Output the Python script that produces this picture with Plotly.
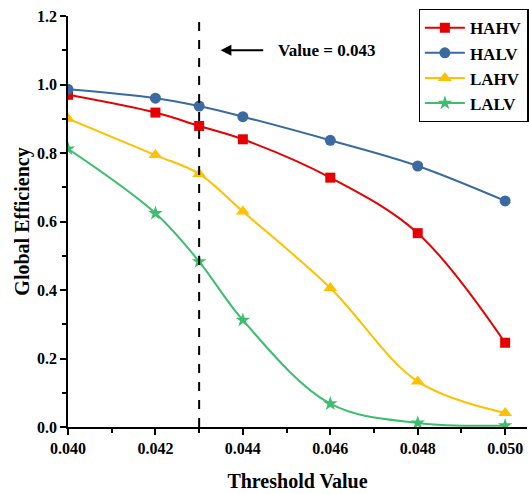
import plotly.graph_objects as go

x_vals = [0.040, 0.042, 0.043, 0.044, 0.046, 0.048, 0.050]
hahv = [0.970, 0.918, 0.879, 0.840, 0.728, 0.566, 0.246]
halv = [0.986, 0.960, 0.937, 0.906, 0.837, 0.762, 0.660]
lahv = [0.900, 0.794, 0.739, 0.629, 0.406, 0.133, 0.041]
lalv = [0.812, 0.624, 0.483, 0.312, 0.068, 0.012, 0.004]
threshold = 0.043
x_ticks = [0.040, 0.042, 0.044, 0.046, 0.048, 0.050]
x_labels = ["0.040", "0.042", "0.044", "0.046", "0.048", "0.050"]
y_ticks = [0, 0.2, 0.4, 0.6, 0.8, 1.0, 1.2]
y_labels = ["0.0", "0.2", "0.4", "0.6", "0.8", "1.0", "1.2"]

series = [
    ("HAHV", hahv, "#E60000", "square", 10),
    ("HALV", halv, "#3A6AA0", "circle", 11),
    ("LAHV", lahv, "#FFC000", "triangle-up", 12),
    ("LALV", lalv, "#3DBE6E", "star", 11),
]

font = "Times New Roman, Liberation Serif, serif"
fig = go.Figure()
for name, vals, col, sym, sz in series:
    fig.add_trace(go.Scatter(
        x=x_vals, y=vals, name="<b>%s</b>" % name, mode="lines+markers",
        line=dict(color=col, width=2, shape="spline", smoothing=1.0),
        marker=dict(color=col, symbol=sym, size=sz),
    ))

fig.add_shape(type="line", x0=threshold, x1=threshold, y0=0, y1=1.2,
              xref="x", yref="y", line=dict(color="black", width=2, dash="dash"))

fig.add_annotation(x=0.04349, y=1.10, ax=0.04450, ay=1.10, xref="x", yref="y",
                   axref="x", ayref="y", text="", showarrow=True,
                   arrowhead=2, arrowsize=1.2, arrowwidth=1.8, arrowcolor="black")
fig.add_annotation(x=0.04476, y=1.10, xref="x", yref="y", text="<b>Value = 0.043</b>",
                   showarrow=False, xanchor="left",
                   font=dict(family=font, size=17, color="black"))

fig.update_layout(
    width=529, height=494,
    margin=dict(l=68, r=0, t=16, b=67),
    paper_bgcolor="white", plot_bgcolor="white",
    font=dict(family=font, color="black"),
    showlegend=True,
    legend=dict(x=0.764, y=1.017, xanchor="left", yanchor="top",
                bordercolor="black", borderwidth=1.2, bgcolor="white",
                font=dict(family=font, size=17, color="black"),
                tracegroupgap=0, itemwidth=40),
    xaxis=dict(range=[0.040, 0.0505], tickvals=x_ticks,
               ticktext=["<b>%s</b>" % t for t in x_labels],
               ticks="outside", ticklen=6, tickwidth=1.5, tickcolor="black",
               minor=dict(tickvals=[0.041, 0.043, 0.045, 0.047, 0.049], ticks="outside",
                          ticklen=4, tickwidth=1.5, tickcolor="black"),
               showline=True, linecolor="black", linewidth=1.5, showgrid=False, zeroline=False,
               tickfont=dict(family=font, size=16),
               title=dict(text="<b>Threshold Value</b>", font=dict(family=font, size=20), standoff=18)),
    yaxis=dict(range=[0, 1.2], tickvals=y_ticks,
               ticktext=["<b>%s</b>" % t for t in y_labels],
               ticks="outside", ticklen=6, tickwidth=1.5, tickcolor="black",
               minor=dict(tickvals=[0.1, 0.3, 0.5, 0.7, 0.9, 1.1], ticks="outside",
                          ticklen=4, tickwidth=1.5, tickcolor="black"),
               showline=True, linecolor="black", linewidth=1.5, showgrid=False, zeroline=False,
               tickfont=dict(family=font, size=16),
               title=dict(text="<b>Global Efficiency</b>", font=dict(family=font, size=20), standoff=2)),
)

fig.write_html("out.html")
